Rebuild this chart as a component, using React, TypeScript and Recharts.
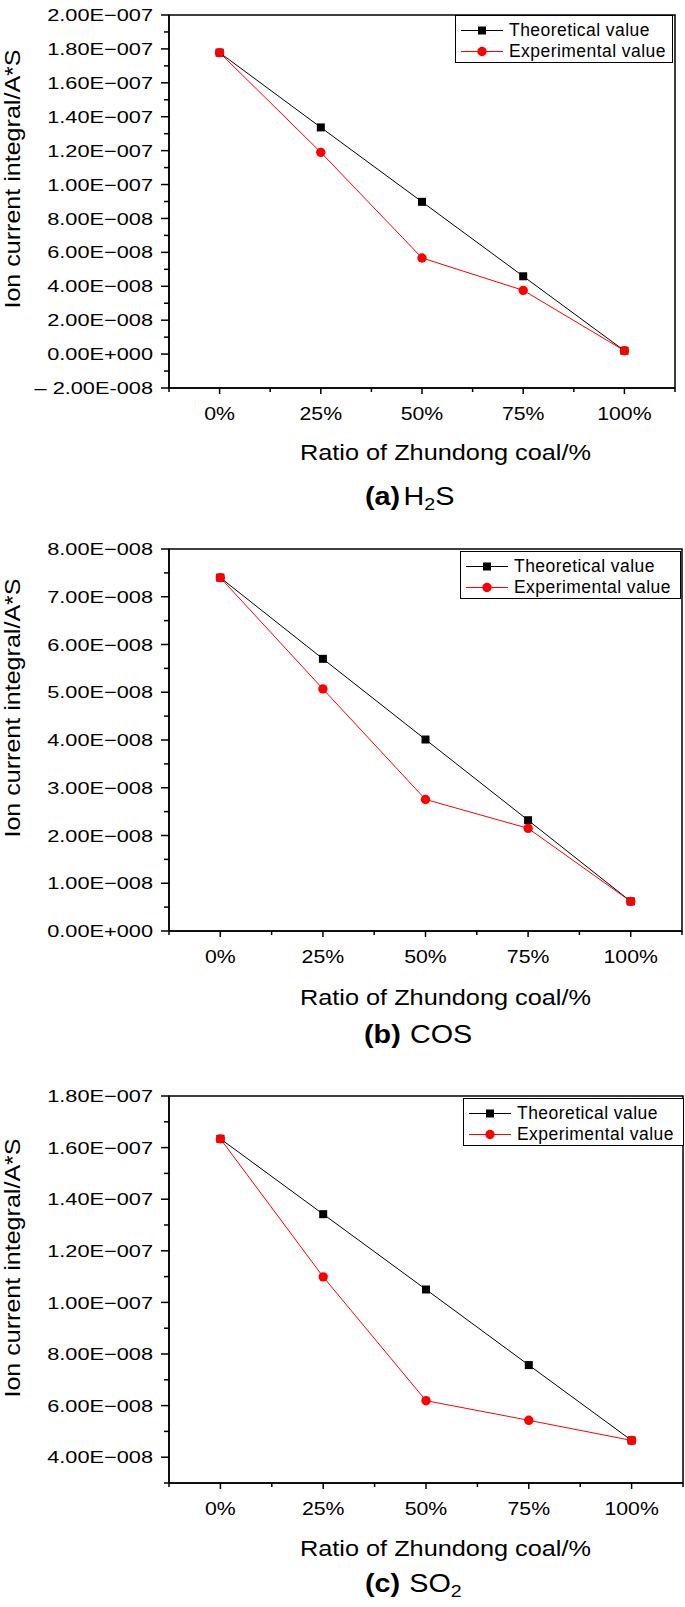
import React from "react";
import { LineChart, Line, XAxis, YAxis, Legend, ReferenceArea } from "recharts";

const FONT = "'Liberation Sans', Arial, Helvetica, sans-serif";

// x positions (ratio of Zhundong coal, %)
const ratios = [0, 25, 50, 75, 100];

// (a) H2S
const h2sTheoretical = [1.778e-7, 1.337e-7, 0.898e-7, 0.459e-7, 0.02e-7];
const h2sExperimental = [1.778e-7, 1.19e-7, 0.567e-7, 0.376e-7, 0.02e-7];
// (b) COS
const cosTheoretical = [7.4e-8, 5.7e-8, 4.01e-8, 2.32e-8, 0.62e-8];
const cosExperimental = [7.4e-8, 5.07e-8, 2.755e-8, 2.15e-8, 0.62e-8];
// (c) SO2
const so2Theoretical = [1.634e-7, 1.342e-7, 1.05e-7, 0.757e-7, 0.465e-7];
const so2Experimental = [1.634e-7, 1.099e-7, 0.619e-7, 0.543e-7, 0.465e-7];

const xMajorTicks = [0, 25, 50, 75, 100];
const xMinorTicks = [-12.5, 12.5, 37.5, 62.5, 87.5, 112.5];

const h2sMajorTicks = [-2e-8, 0, 2e-8, 4e-8, 6e-8, 8e-8, 1e-7, 1.2e-7, 1.4e-7, 1.6e-7, 1.8e-7, 2e-7];
const h2sMinorTicks = [-1e-8, 1e-8, 3e-8, 5e-8, 7e-8, 9e-8, 1.1e-7, 1.3e-7, 1.5e-7, 1.7e-7, 1.9e-7];
const cosMajorTicks = [0, 1e-8, 2e-8, 3e-8, 4e-8, 5e-8, 6e-8, 7e-8, 8e-8];
const cosMinorTicks = [0.5e-8, 1.5e-8, 2.5e-8, 3.5e-8, 4.5e-8, 5.5e-8, 6.5e-8, 7.5e-8];
const so2MajorTicks = [4e-8, 6e-8, 8e-8, 1e-7, 1.2e-7, 1.4e-7, 1.6e-7, 1.8e-7];
const so2MinorTicks = [3e-8, 5e-8, 7e-8, 9e-8, 1.1e-7, 1.3e-7, 1.5e-7, 1.7e-7];

const seriesOrder = ["theo", "exp"];

const sci = (v: number) => {
  if (Math.abs(v) < 1e-15) return "0.00E+000";
  const a = Math.abs(v);
  const e = Math.floor(Math.log10(a) + 1e-9);
  const m = (a / Math.pow(10, e)).toFixed(2);
  const exp = String(Math.abs(e)).padStart(3, "0");
  if (v < 0) return `\u2013 ${m}E-${exp}`;
  return `${m}E${e < 0 ? "\u2212" : "+"}${exp}`;
};

const isIn = (list: number[], v: number) => list.some((m) => Math.abs(m - v) < 1e-12);

const YTick = (props: any) => {
  const { x, y, payload, majors } = props;
  const major = isIn(majors, payload.value);
  return (
    <g>
      <line x1={x} x2={x - (major ? 8 : 5)} y1={y} y2={y} stroke="#000" strokeWidth={1.5} />
      {major && (
        <text
          transform={`translate(${x - 16},${y}) scale(1.28,1)`}
          dy="0.36em"
          textAnchor="end"
          fontSize={17}
          fontFamily={FONT}
          fill="#000"
        >
          {sci(payload.value)}
        </text>
      )}
    </g>
  );
};

const XTick = (props: any) => {
  const { x, y, payload } = props;
  const major = isIn(xMajorTicks, payload.value);
  return (
    <g>
      <line x1={x} x2={x} y1={y} y2={y + (major ? 6 : 4)} stroke="#000" strokeWidth={1.5} />
      {major && (
        <text
          transform={`translate(${x},${y + 19}) scale(1.12,1)`}
          dy="0.71em"
          textAnchor="middle"
          fontSize={19}
          fontFamily={FONT}
          fill="#000"
        >
          {`${payload.value}%`}
        </text>
      )}
    </g>
  );
};

const Square = (p: any) => (
  <rect key={`sq-${p.index}`} x={p.cx - 4} y={p.cy - 4} width={8} height={8} fill="#000" />
);

const LegendBox = ({ payload }: any) => {
  const items = [...(payload || [])].sort(
    (a: any, b: any) => seriesOrder.indexOf(a.dataKey) - seriesOrder.indexOf(b.dataKey)
  );
  return (
    <div
      style={{
        border: "1px solid #000",
        background: "#fff",
        padding: "4px 0 0 0",
        fontFamily: FONT,
        fontSize: 17.5,
        letterSpacing: 0.45,
        color: "#000",
        boxSizing: "border-box",
        height: 48,
      }}
    >
      {items.map((entry: any) => (
        <div key={entry.value} style={{ display: "flex", alignItems: "center", height: 21 }}>
          <svg width={53} height={21} style={{ flex: "none" }}>
            <line x1={5} x2={47} y1={10.5} y2={10.5} stroke={entry.color} strokeWidth={1} />
            {entry.dataKey === "theo" ? (
              <rect x={22} y={6.5} width={8} height={8} fill="#000" />
            ) : (
              <circle cx={26} cy={10.5} r={4.7} fill="#ff0000" />
            )}
          </svg>
          <span style={{ whiteSpace: "nowrap" }}>{entry.value}</span>
        </div>
      ))}
    </div>
  );
};

type PanelProps = {
  height: number;
  marginRight: number;
  theo: number[];
  exp: number[];
  domain: [number, number];
  majors: number[];
  minors: number[];
  legend: { left: number; top: number; width: number };
};

function Panel({ height, marginRight, theo, exp, domain, majors, minors, legend }: PanelProps) {
  const data = ratios.map((r, i) => ({ ratio: r, theo: theo[i], exp: exp[i] }));
  const yTicks = [...majors, ...minors].sort((a, b) => a - b);
  const xTicks = [...xMajorTicks, ...xMinorTicks].sort((a, b) => a - b);
  const axisLine = { stroke: "#000", strokeWidth: 1.5 };
  return (
    <LineChart width={685} height={height} data={data} margin={{ top: 15, right: marginRight, bottom: 0, left: 0 }}>
      <XAxis
        dataKey="ratio"
        type="number"
        domain={[-12.5, 112.5]}
        ticks={xTicks}
        interval={0}
        tickSize={0}
        tickMargin={0}
        tickLine={false}
        axisLine={axisLine}
        height={40}
        allowDataOverflow
        tick={(p: any) => <XTick {...p} />}
      />
      <YAxis
        type="number"
        domain={domain}
        ticks={yTicks}
        interval={0}
        width={169}
        tickSize={0}
        tickMargin={0}
        tickLine={false}
        axisLine={axisLine}
        allowDataOverflow
        tick={(p: any) => <YTick {...p} majors={majors} />}
      />
      <ReferenceArea
        x1={-12.5}
        x2={112.5}
        y1={domain[0]}
        y2={domain[1]}
        fill="none"
        stroke="#000"
        strokeWidth={1.5}
        ifOverflow="visible"
      />
      <Legend
        layout="vertical"
        align="center"
        verticalAlign="middle"
        wrapperStyle={{ left: legend.left, top: legend.top, width: legend.width }}
        content={(p: any) => <LegendBox payload={p.payload} />}
      />
      <Line
        dataKey="theo"
        name="Theoretical value"
        stroke="#000"
        strokeWidth={1}
        dot={Square}
        activeDot={false}
        isAnimationActive={false}
      />
      <Line
        dataKey="exp"
        name="Experimental value"
        stroke="#ff0000"
        strokeWidth={1}
        dot={{ r: 4.7, fill: "#ff0000", stroke: "#ff0000", strokeWidth: 0 }}
        activeDot={false}
        isAnimationActive={false}
      />
    </LineChart>
  );
}

const textProps = { fontFamily: FONT, fill: "#000" };

export default function App() {
  return (
    <div style={{ position: "absolute", left: 0, top: 0, width: 685, height: 1607, background: "#fff" }}>
      <div style={{ position: "absolute", left: 0, top: 0 }}>
        <Panel
          height={428}
          marginRight={10}
          theo={h2sTheoretical}
          exp={h2sExperimental}
          domain={[-2e-8, 2e-7]}
          majors={h2sMajorTicks}
          minors={h2sMinorTicks}
          legend={{ left: 455, top: 15, width: 218 }}
        />
      </div>
      <div style={{ position: "absolute", left: 0, top: 534 }}>
        <Panel
          height={437}
          marginRight={3}
          theo={cosTheoretical}
          exp={cosExperimental}
          domain={[0, 8e-8]}
          majors={cosMajorTicks}
          minors={cosMinorTicks}
          legend={{ left: 460, top: 17, width: 221 }}
        />
      </div>
      <div style={{ position: "absolute", left: 0, top: 1081 }}>
        <Panel
          height={442}
          marginRight={2}
          theo={so2Theoretical}
          exp={so2Experimental}
          domain={[3e-8, 1.8e-7]}
          majors={so2MajorTicks}
          minors={so2MinorTicks}
          legend={{ left: 463, top: 17, width: 221 }}
        />
      </div>
      <svg
        width={685}
        height={1607}
        style={{ position: "absolute", left: 0, top: 0, pointerEvents: "none" }}
      >
        {[179, 708, 1268].map((cy) => (
          <text
            key={cy}
            transform={`translate(20,${cy}) rotate(-90) scale(1.14,1)`}
            textAnchor="middle"
            fontSize={22}
            {...textProps}
          >
            Ion current integral/A*S
          </text>
        ))}
        {[460, 1005, 1556].map((by) => (
          <text key={by} transform={`translate(300,${by}) scale(1.15,1)`} fontSize={22} {...textProps}>
            Ratio of Zhundong coal/%
          </text>
        ))}
        <text transform="translate(365,505) scale(1.15,1)" fontSize={25} {...textProps}>
          <tspan fontWeight="bold">(a)</tspan>
          <tspan dx={3}>H</tspan>
          <tspan fontSize={17} dy={5}>2</tspan>
          <tspan dy={-5}>S</tspan>
        </text>
        <text transform="translate(364,1043) scale(1.15,1)" fontSize={25} {...textProps}>
          <tspan fontWeight="bold">(b)</tspan>
          <tspan dx={8}>COS</tspan>
        </text>
        <text transform="translate(365,1592) scale(1.15,1)" fontSize={25} {...textProps}>
          <tspan fontWeight="bold">(c)</tspan>
          <tspan dx={8}>SO</tspan>
          <tspan fontSize={17} dy={5}>2</tspan>
        </text>
      </svg>
    </div>
  );
}
